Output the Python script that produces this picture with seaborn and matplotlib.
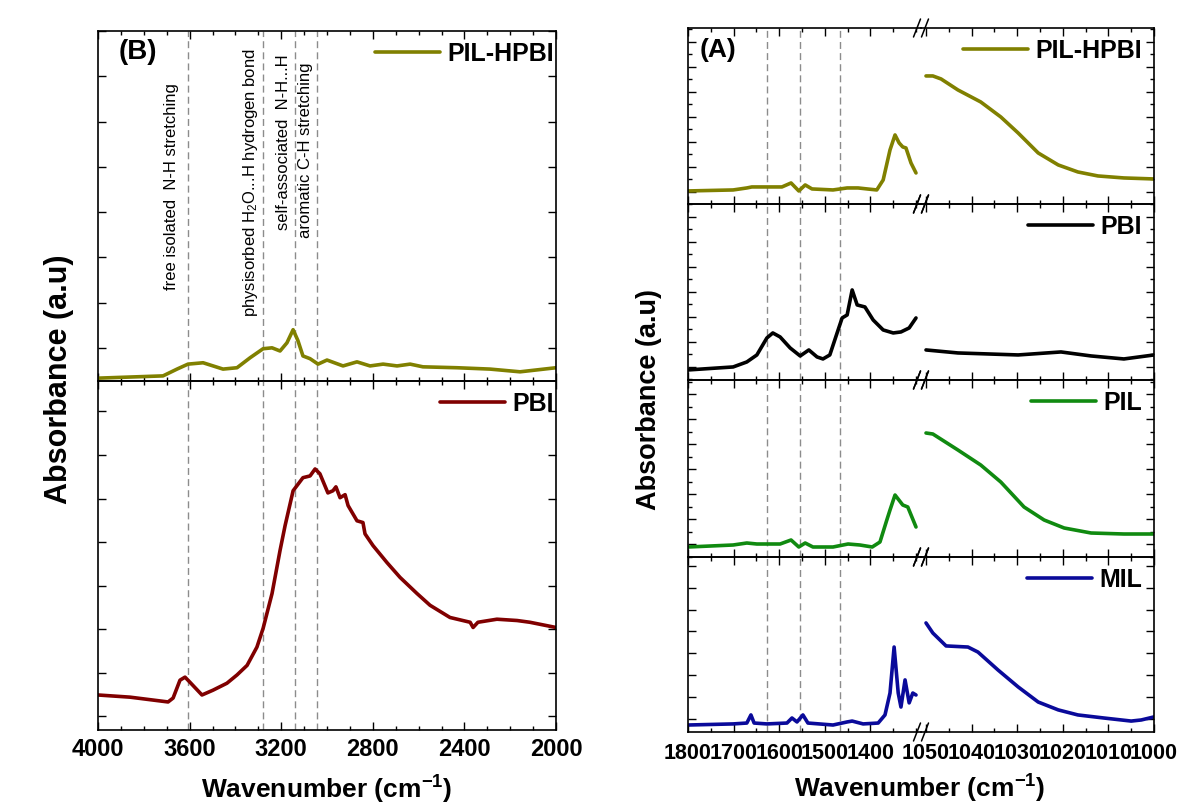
import numpy as np
import matplotlib
matplotlib.use("Agg")
import matplotlib.pyplot as plt
import matplotlib.transforms as mtransforms
from matplotlib.ticker import MultipleLocator, FixedLocator
import seaborn as sns

# ---------------- data ----------------
# (B) 4000-2000 cm-1
wn_b_hpbi = [4000, 3716, 3655, 3607, 3541, 3454, 3393, 3336, 3279, 3240, 3205, 3175, 3148, 3127,
             3105, 3074, 3039, 3000, 2930, 2869, 2812, 2755, 2694, 2637, 2581, 2432, 2288, 2157, 2000]
abs_b_hpbi = [0.33, 0.38, 0.53, 0.64, 0.67, 0.53, 0.56, 0.78, 0.98, 1.00, 0.93, 1.11, 1.40, 1.16,
              0.82, 0.76, 0.64, 0.73, 0.60, 0.69, 0.60, 0.64, 0.60, 0.64, 0.58, 0.56, 0.53, 0.47, 0.56]

wn_b_pbi = [4000, 3860, 3694, 3672, 3642, 3620, 3598, 3546, 3498, 3437, 3393, 3349, 3306, 3279, 3240,
            3205, 3183, 3148, 3105, 3074, 3052, 3031, 2996, 2974, 2961, 2943, 2921, 2908, 2869, 2843,
            2834, 2799, 2738, 2681, 2607, 2550, 2463, 2375, 2362, 2341, 2258, 2170, 2114, 2000]
abs_b_pbi = [1.49, 1.44, 1.33, 1.42, 1.83, 1.90, 1.78, 1.49, 1.60, 1.76, 1.95, 2.17, 2.59, 3.02, 3.82,
             4.81, 5.38, 6.18, 6.48, 6.52, 6.68, 6.57, 6.13, 6.18, 6.27, 6.02, 6.09, 5.84, 5.49, 5.45,
             5.19, 4.92, 4.53, 4.19, 3.82, 3.55, 3.27, 3.16, 3.04, 3.16, 3.23, 3.20, 3.16, 3.04]

band_b = [3605, 3280, 3140, 3045]
band_text = ["free isolated  N-H stretching",
             "physisorbed H$_2$O...H hydrogen bond",
             "self-associated  N-H...H",
             "aromatic C-H stretching"]
text_wn = [3677, 3336, 3192, 3092]
text_y = [0.26, 0.183, 0.43, 0.41]

# (A) 1800-1300 and 1050-1000 cm-1
wn_a_hpbi = [1800, 1701, 1671, 1660, 1627, 1594, 1574, 1557, 1543, 1528, 1482, 1451, 1427, 1407,
             1386, 1372, 1357, 1346, 1337, 1329, 1322, 1311, 1300,
             1050, 1048.5, 1046.7, 1043, 1038, 1033.6, 1029.8, 1025.4, 1021, 1016.7, 1012.3, 1006.6, 1000]
abs_a_hpbi = [1.03, 1.07, 1.15, 1.19, 1.19, 1.19, 1.35, 1.03, 1.27, 1.11, 1.07, 1.15, 1.15, 1.11,
              1.07, 1.47, 2.67, 3.27, 2.95, 2.79, 2.75, 2.15, 1.75,
              5.63, 5.63, 5.51, 5.07, 4.59, 3.99, 3.35, 2.55, 2.07, 1.79, 1.63, 1.55, 1.51]

wn_a_pbi = [1800, 1701, 1671, 1649, 1627, 1614, 1598, 1576, 1554, 1535, 1517, 1504, 1489, 1473,
            1462, 1451, 1440, 1429, 1412, 1394, 1372, 1350, 1333, 1315, 1300,
            1050, 1043, 1029.8, 1020.4, 1013.8, 1006.6, 1000]
abs_a_pbi = [0.87, 0.99, 1.19, 1.47, 2.15, 2.35, 2.19, 1.75, 1.43, 1.67, 1.39, 1.31, 1.47, 2.35,
             2.95, 3.07, 4.07, 3.47, 3.39, 2.87, 2.47, 2.35, 2.39, 2.55, 2.95,
             1.67, 1.55, 1.47, 1.59, 1.43, 1.31, 1.47]

wn_a_pil = [1800, 1701, 1671, 1649, 1598, 1574, 1557, 1543, 1526, 1482, 1449, 1423, 1396, 1379,
            1364, 1357, 1346, 1329, 1318, 1300,
            1050, 1048.5, 1043, 1038, 1033.6, 1028.5, 1024.1, 1019.7, 1013.8, 1006.6, 1000]
abs_a_pil = [0.88, 0.96, 1.04, 1.00, 1.00, 1.16, 0.88, 1.04, 0.88, 0.88, 1.00, 0.96, 0.88, 1.08,
             1.96, 2.36, 2.96, 2.56, 2.48, 1.68,
             5.44, 5.40, 4.76, 4.16, 3.48, 2.48, 1.96, 1.64, 1.44, 1.40, 1.40]

wn_a_mil = [1800, 1701, 1671, 1662, 1655, 1627, 1583, 1572, 1561, 1548, 1537, 1482, 1451, 1440,
            1416, 1383, 1368, 1357, 1348, 1339, 1333, 1324, 1315, 1307, 1300,
            1050, 1048.5, 1045.6, 1040.8, 1038.6, 1034.2, 1029.8, 1025.4, 1021, 1016.7, 1011, 1005,
            1002.8, 1000]
abs_a_mil = [0.73, 0.78, 0.82, 1.19, 0.82, 0.78, 0.82, 1.05, 0.87, 1.19, 0.82, 0.73, 0.87, 0.91,
             0.78, 0.82, 1.19, 2.19, 4.29, 2.19, 1.55, 2.79, 1.74, 2.19, 2.10,
             5.39, 4.93, 4.34, 4.29, 4.06, 3.24, 2.47, 1.78, 1.42, 1.19, 1.05, 0.91, 0.96, 1.10]

band_a = [1627, 1555, 1467]

# ---------------- style ----------------
sns.set_theme(style="ticks")
plt.rcParams["font.family"] = ["Liberation Sans", "DejaVu Sans"]
plt.rcParams["font.weight"] = "bold"
plt.rcParams["mathtext.fontset"] = "custom"
plt.rcParams["mathtext.rm"] = "Liberation Sans"
plt.rcParams["mathtext.bf"] = "Liberation Sans:bold"
plt.rcParams["mathtext.default"] = "regular"
plt.rcParams["axes.facecolor"] = "none"
for k in ["text.color", "axes.labelcolor", "xtick.color", "ytick.color", "axes.edgecolor"]:
    plt.rcParams[k] = "black"

W, H = 1191, 809
fig = plt.figure(figsize=(W / 100, H / 100), dpi=100, facecolor="white")


def add_ax(x0, y0, x1, y1):
    return fig.add_axes([x0 / W, 1 - y1 / H, (x1 - x0) / W, (y1 - y0) / H])


def style(ax, labelsize, pad):
    for s in ax.spines.values():
        s.set_linewidth(1.2)
        s.set_color("black")
    ax.tick_params(which="both", direction="in", top=True, right=True, left=True, bottom=True,
                   color="black", labelcolor="black", width=1.0, labelsize=labelsize, pad=pad,
                   labelleft=False)
    ax.tick_params(which="major", length=6)
    ax.tick_params(which="minor", length=3)
    ax.set_xlabel("")
    ax.set_ylabel("")


dash = (0, (5, 3))
line_kw = dict(sort=False, estimator=None, lw=2.6)
leg_kw = dict(loc="upper right", frameon=False, borderaxespad=0, borderpad=0, handlelength=2.6,
              handletextpad=0.3, prop=dict(weight="bold", size=18))

# ---------------- (B) ----------------
ax_b1 = add_ax(98, 31, 556, 381)
ax_b2 = add_ax(98, 381, 556, 730)
b_sets = [(ax_b1, wn_b_hpbi, abs_b_hpbi, "#808000", "PIL-HPBI", (0.267, 8.0)),
          (ax_b2, wn_b_pbi, abs_b_pbi, "#800000", "PBI", (0.686, 8.70))]
for ax, wn, ab, col, lab, ylim in b_sets:
    for b in band_b:
        ax.axvline(b, color="#8c8c8c", lw=1.0, ls=dash, zorder=1)
    sns.lineplot(x=wn, y=ab, ax=ax, color=col, label=lab, **line_kw)
    ax.set_xlim(4000, 2000)
    ax.set_ylim(*ylim)
    ax.xaxis.set_major_locator(MultipleLocator(400))
    ax.xaxis.set_minor_locator(MultipleLocator(100))
    ax.yaxis.set_major_locator(MultipleLocator(1))
    style(ax, 17, 6)
    ax.legend(bbox_to_anchor=(1 - 2 / 458, 1 - 11 / 350), **leg_kw)
ax_b1.tick_params(labelbottom=False)

trans = mtransforms.blended_transform_factory(ax_b1.transData, ax_b1.transAxes)
for t, x, y in zip(band_text, text_wn, text_y):
    ax_b1.text(x, y, t, rotation=90, ha="center", va="bottom", fontsize=12,
               fontweight="normal", transform=trans)
ax_b1.text(0.044, 0.94, "(B)", transform=ax_b1.transAxes, fontsize=20, va="center", ha="left")

# ---------------- (A) ----------------
rows = [28, 204, 380, 557, 732]
a_sets = [(wn_a_hpbi, abs_a_hpbi, "#808000", "PIL-HPBI", (0.508, 7.548), True),
          (wn_a_pbi, abs_a_pbi, "black", "PBI", (0.468, 7.508), True),
          (wn_a_pil, abs_a_pil, "#108a10", "PIL", (0.48, 7.56), True),
          (wn_a_mil, abs_a_mil, "#0a0a9a", "MIL", (0.411, 8.40), False)]
xL0, xB, xR1 = 688, 921, 1154
for i, (wn, ab, col, lab, ylim, minor) in enumerate(a_sets):
    axL = add_ax(xL0, rows[i], xB, rows[i + 1])
    axR = add_ax(xB, rows[i], xR1, rows[i + 1])
    wn = np.asarray(wn, dtype=float)
    ab = np.asarray(ab, dtype=float)
    lo = wn >= 1290
    hi = wn <= 1060
    for b in band_a:
        axL.axvline(b, color="#8c8c8c", lw=1.0, ls=dash, zorder=1)
    sns.lineplot(x=wn[lo], y=ab[lo], ax=axL, color=col, legend=False, **line_kw)
    sns.lineplot(x=wn[hi], y=ab[hi], ax=axR, color=col, label=lab, **line_kw)
    axL.set_xlim(1800, 1800 - (xB - xL0) / 0.456)
    axR.set_xlim(1000 + (xR1 - xB) / 4.56, 1000)
    for ax in (axL, axR):
        ax.set_ylim(*ylim)
        ax.yaxis.set_major_locator(MultipleLocator(1))
        if minor:
            ax.yaxis.set_minor_locator(MultipleLocator(0.5))
        style(ax, 15.5, 8)
        if i < 3:
            ax.tick_params(labelbottom=False)
    axL.xaxis.set_major_locator(FixedLocator([1800, 1700, 1600, 1500, 1400]))
    axL.xaxis.set_minor_locator(FixedLocator([1750, 1650, 1550, 1450, 1350, 1300]))
    axR.xaxis.set_major_locator(MultipleLocator(10))
    axR.xaxis.set_minor_locator(MultipleLocator(5))
    axL.spines["right"].set_visible(False)
    axR.spines["left"].set_visible(False)
    axL.tick_params(which="both", right=False)
    axR.tick_params(which="both", left=False)
    axR.legend(bbox_to_anchor=(1 - 12 / 233, 1 - 11 / 176), **leg_kw)
    # axis break marks
    w, h = xR1 - xB, rows[i + 1] - rows[i]
    for yy in (0, 1):
        for c in (-4, 4):
            axR.plot([(c - 3.5) / w, (c + 3.5) / w], [yy - 9 / h, yy + 9 / h], color="black",
                     lw=1.1, transform=axR.transAxes, clip_on=False, zorder=5)
    if i == 0:
        axL.text((700 - xL0) / (xB - xL0), (rows[1] - 50) / h, "(A)", transform=axL.transAxes,
                 fontsize=19, va="center", ha="left")

# ---------------- axis titles ----------------
fig.text(59 / W, 1 - 379 / H, "Absorbance (a.u)", rotation=90, ha="center", va="center", fontsize=22)
fig.text(649 / W, 1 - 400 / H, "Absorbance (a.u)", rotation=90, ha="center", va="center", fontsize=19.5)
fig.text(327 / W, 1 - 799 / H, "Wavenumber (cm$^{-1}$)", ha="center", va="baseline", fontsize=19)
fig.text(920 / W, 1 - 798 / H, "Wavenumber (cm$^{-1}$)", ha="center", va="baseline", fontsize=19)

fig.savefig("out.png", dpi=100, facecolor="white")
